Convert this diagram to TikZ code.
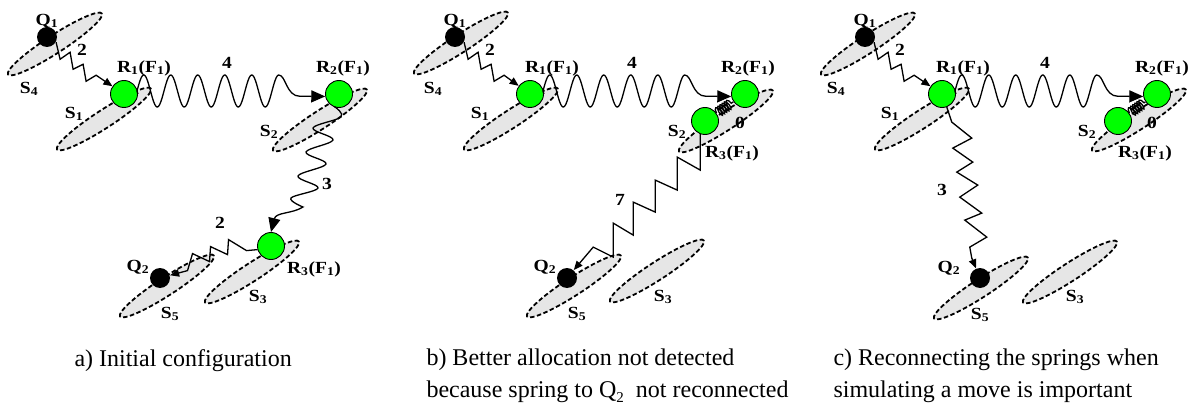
\documentclass[tikz,border=0pt]{standalone}
\usepackage{fontspec}
\setmainfont{Liberation Serif}
\newfontfamily\lblfont[FakeStretch=1.15]{Liberation Serif}
\usetikzlibrary{arrows.meta,positioning,shapes.geometric,decorations.pathmorphing}
\definecolor{SiteGray}{HTML}{E6E6E6}
\definecolor{TaskGreen}{HTML}{00FF00}

\begin{document}
\begin{tikzpicture}[x=1pt, y=-1pt, line width=1pt,
  site/.style={ellipse, draw, dash pattern=on 4.5pt off 2.5pt, line width=1.8pt, fill=SiteGray,
    minimum width=112pt, minimum height=18pt, rotate=33, inner sep=0pt},
  robot/.style={circle, draw, fill=TaskGreen, minimum size=27pt, inner sep=0pt, line width=0.9pt},
  target/.style={circle, fill=black, minimum size=20pt, inner sep=0pt},
  lbl/.style={font=\lblfont\fontsize{17}{18}\selectfont\bfseries, inner sep=0pt},
  spring/.style={line width=1.3pt},
  bigtip/.style={-{Triangle[length=14pt,width=12pt]}},
  smalltip/.style={-{Triangle[length=9pt,width=7.5pt]}},
  caption/.style={font=\fontsize{24}{32}\selectfont, align=left, anchor=west, inner sep=0pt}
]
  \useasboundingbox (0,0) rectangle (1194,406);

  % a) initial configuration
  \node[site] (S4a) at (55,44) {};
  \node[site] (S1a) at (104,119) {};
  \node[site] (S2a) at (320,120) {};
  \node[site] (S5a) at (167,286) {};
  \node[site] (S3a) at (252,272) {};
  \node[target] (Q1a) at (47,37) {};
  \node[robot] (R1a) at (124,94) {};
  \node[robot] (R2a) at (339,94) {};
  \node[robot] (R3a) at (271,246) {};
  \node[target] (Q2a) at (160,278) {};
  \draw[spring, smalltip] (Q1a.-30) -- ++(4,17) -- ++(10,-7) -- ++(3,17) -- ++(10,-5) -- ++(3,17) -- ++(10,-6) -- (R1a);
  \draw[spring, bigtip] (R1a.east) -- plot[domain=0:5.25, samples=160, smooth] ({137+27*\x}, {91-16*sin(360*\x)})
    .. controls (286,75) and (286,96.3) .. (300,96.3) -- (R2a.190);
  \draw[spring, bigtip] (R2a.250) -- plot[smooth, tension=0.6] coordinates {(335,107) (341,117) (313,128) (333,140)
    (306,152) (326,164) (298,176) (318,188) (291,198) (303,207)} .. controls (292,214) and (276,212) .. (R3a.north);
  \draw[spring, smalltip] (R3a.195) -- ++(-11,1) -- ++(-18,-11) -- ++(-1,15) -- ++(-17,-8) -- ++(-1,15) -- ++(-17,-8) -- ++(-5,17) -- (Q2a);
  \node[lbl] (lQ1a) at (47,21) {Q\textsubscript{1}};
  \node[lbl] (l2a) at (82,50) {2};
  \node[lbl] (lS4a) at (29,89) {S\textsubscript{4}};
  \node[lbl] (lR1a) at (144,68) {R\textsubscript{1}(F\textsubscript{1})};
  \node[lbl] (lS1a) at (74,114) {S\textsubscript{1}};
  \node[lbl] (l4a) at (227,63) {4};
  \node[lbl] (lR2a) at (343,68) {R\textsubscript{2}(F\textsubscript{1})};
  \node[lbl] (lS2a) at (269,132) {S\textsubscript{2}};
  \node[lbl] (l3a) at (327,184) {3};
  \node[lbl] (l2ba) at (220,223) {2};
  \node[lbl] (lQ2a) at (138,267) {Q\textsubscript{2}};
  \node[lbl] (lR3a) at (314,269) {R\textsubscript{3}(F\textsubscript{1})};
  \node[lbl] (lS3a) at (258,297) {S\textsubscript{3}};
  \node[lbl] (lS5a) at (170,314) {S\textsubscript{5}};

  % b) spring to Q2 kept
  \begin{scope}[xshift=408]
    \node[site] (S4b) at (53,43) {};
    \node[site] (S1b) at (103,119) {};
    \node[site] (S2b) at (318,121) {};
    \node[site] (S5b) at (166,286) {};
    \node[site] (S3b) at (249,271) {};
    \node[target] (Q1b) at (47,37) {};
    \node[robot] (R1b) at (122,94) {};
    \node[robot] (R2b) at (337,94) {};
    \node[robot] (R3b) at (297,121) {};
    \node[target] (Q2b) at (159,278) {};
    \draw[spring, smalltip] (Q1b.-30) -- ++(4,17) -- ++(10,-7) -- ++(3,17) -- ++(10,-5) -- ++(3,17) -- ++(10,-6) -- (R1b);
    \draw[spring, bigtip] (R1b.east) -- plot[domain=0:5.25, samples=160, smooth] ({135+27*\x}, {91-16*sin(360*\x)})
      .. controls (284,75) and (284,96.3) .. (298,96.3) -- (R2b.190);
    \draw[spring, decorate, decoration={coil, amplitude=5pt, segment length=2.6pt, aspect=0.35}] (R3b.34) -- (R2b.214);
    \draw[spring, smalltip] (R3b.250) -- ++(0,36) -- ++(-23,-13) -- ++(0,33) -- ++(-22,-10) -- ++(0,32) -- ++(-22,-10)
      -- ++(0,33) -- ++(-20,-12) -- ++(0,34) -- ++(-20,-10) -- (Q2b);
    \node[lbl] (lQ1b) at (47,21) {Q\textsubscript{1}};
    \node[lbl] (l2b) at (82,50) {2};
    \node[lbl] (lS4b) at (25,89) {S\textsubscript{4}};
    \node[lbl] (lR1b) at (144,68) {R\textsubscript{1}(F\textsubscript{1})};
    \node[lbl] (lS1b) at (72,114) {S\textsubscript{1}};
    \node[lbl] (l4b) at (224,63) {4};
    \node[lbl] (lR2b) at (340,68) {R\textsubscript{2}(F\textsubscript{1})};
    \node[lbl] (lS2b) at (269,132) {S\textsubscript{2}};
    \node[lbl] (l0b) at (332,123) {0};
    \node[lbl] (lR3b) at (324,153) {R\textsubscript{3}(F\textsubscript{1})};
    \node[lbl] (l7b) at (212,200) {7};
    \node[lbl] (lQ2b) at (137,267) {Q\textsubscript{2}};
    \node[lbl] (lS3b) at (255,297) {S\textsubscript{3}};
    \node[lbl] (lS5b) at (169,314) {S\textsubscript{5}};
  \end{scope}

  % c) spring to Q2 reconnected
  \begin{scope}[xshift=818]
    \node[site] (S4c) at (50,44) {};
    \node[site] (S1c) at (104,119) {};
    \node[site] (S2c) at (321,120) {};
    \node[site] (S5c) at (163,288) {};
    \node[site] (S3c) at (252,272) {};
    \node[target] (Q1c) at (47,37) {};
    \node[robot] (R1c) at (124,94) {};
    \node[robot] (R2c) at (339,94) {};
    \node[robot] (R3c) at (300,121) {};
    \node[target] (Q2c) at (162,278) {};
    \draw[spring, smalltip] (Q1c.-30) -- ++(4,17) -- ++(10,-7) -- ++(3,17) -- ++(10,-5) -- ++(3,17) -- ++(10,-6) -- (R1c);
    \draw[spring, bigtip] (R1c.east) -- plot[domain=0:5.25, samples=160, smooth] ({137+27*\x}, {91-16*sin(360*\x)})
      .. controls (286,75) and (286,96.3) .. (300,96.3) -- (R2c.190);
    \draw[spring, decorate, decoration={coil, amplitude=5pt, segment length=2.6pt, aspect=0.35}] (R3c.34) -- (R2c.214);
    \draw[spring, smalltip] (R1c.-70) -- ++(5,15) -- ++(20,16) -- ++(-19,10) -- ++(20,14) -- ++(-16,10) -- ++(21,13)
      -- ++(-18,12) -- ++(22,16) -- ++(-17,7) -- ++(22,17) -- ++(-17,10) -- ++(2,11) -- (Q2c);
    \node[lbl] (lQ1c) at (47,21) {Q\textsubscript{1}};
    \node[lbl] (l2c) at (82,50) {2};
    \node[lbl] (lS4c) at (18,89) {S\textsubscript{4}};
    \node[lbl] (lR1c) at (145,68) {R\textsubscript{1}(F\textsubscript{1})};
    \node[lbl] (lS1c) at (72,114) {S\textsubscript{1}};
    \node[lbl] (l4c) at (227,63) {4};
    \node[lbl] (lR2c) at (344,68) {R\textsubscript{2}(F\textsubscript{1})};
    \node[lbl] (lS2c) at (269,132) {S\textsubscript{2}};
    \node[lbl] (l0c) at (334,123) {0};
    \node[lbl] (lR3c) at (327,153) {R\textsubscript{3}(F\textsubscript{1})};
    \node[lbl] (l3c) at (124,190) {3};
    \node[lbl] (lQ2c) at (131,268) {Q\textsubscript{2}};
    \node[lbl] (lS3c) at (257,297) {S\textsubscript{3}};
    \node[lbl] (lS5c) at (162,315) {S\textsubscript{5}};
  \end{scope}

  % captions
  \node[caption] (capa) at (74,361) {a) Initial configuration};
  \node[caption] (capb) at (426,376) {b) Better allocation not detected\\because spring to Q\raisebox{-0.45ex}{\fontsize{15}{15}\selectfont 2}\ \ not reconnected};
  \node[caption] (capc) at (833,376) {c) Reconnecting the springs when\\simulating a move is important};
\end{tikzpicture}
\end{document}
